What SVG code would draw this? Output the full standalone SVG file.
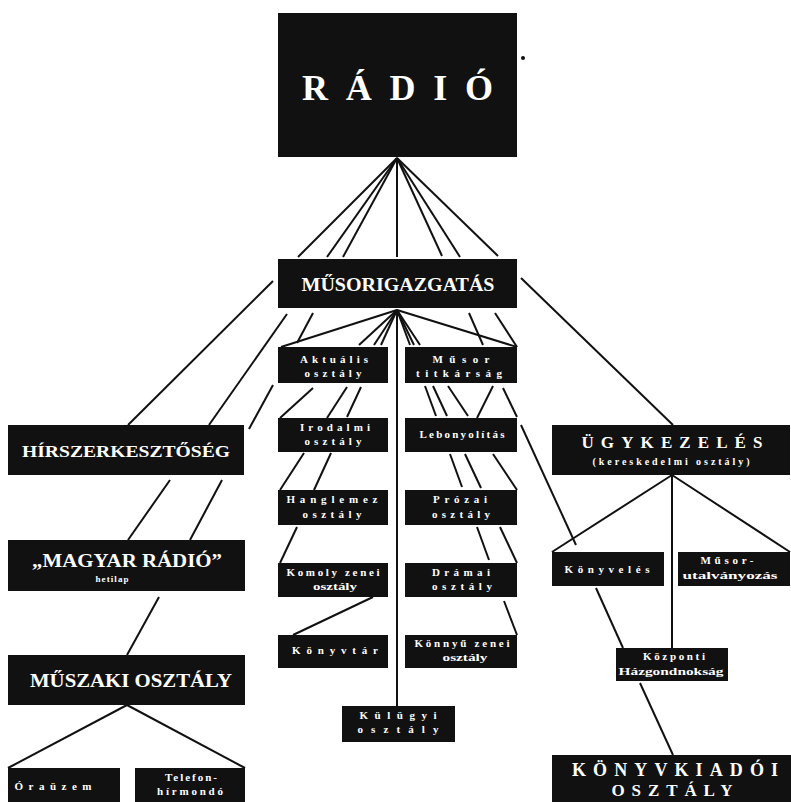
<svg xmlns="http://www.w3.org/2000/svg" width="791" height="802" viewBox="0 0 791 802">
<style>
.bg{fill:#ffffff}
.box{fill:#111111}
.t{font-family:"Liberation Serif","DejaVu Serif",serif;font-weight:bold;fill:#ffffff;text-anchor:middle}
.s{font-size:11px}
.c line{stroke:#111111;stroke-width:2;stroke-linecap:butt}
</style>
<rect class="bg" x="0" y="0" width="791" height="802"/>
<g id="connectors" class="c">
<!-- RÁDIÓ fan -->
<line x1="397" y1="158" x2="298" y2="257"/><line x1="273" y1="281" x2="128" y2="425"/>
<line x1="397" y1="158" x2="327" y2="257"/><line x1="287" y1="314" x2="209" y2="425"/><line x1="170" y1="480" x2="128" y2="540"/>
<line x1="397" y1="158" x2="343" y2="257"/><line x1="313" y1="313" x2="297" y2="343"/><line x1="273" y1="385" x2="249" y2="429"/><line x1="222" y1="480" x2="190" y2="540"/><line x1="159" y1="597" x2="127" y2="655"/>
<line x1="397" y1="158" x2="397" y2="257"/><line x1="397" y1="310" x2="397" y2="706"/>
<line x1="397" y1="158" x2="442" y2="256"/><line x1="469" y1="313" x2="483" y2="345"/><line x1="503" y1="388" x2="517" y2="417"/><line x1="521" y1="425" x2="576" y2="545"/><line x1="596" y1="588" x2="623" y2="648"/><line x1="640" y1="683" x2="673" y2="755"/>
<line x1="397" y1="158" x2="460" y2="257"/><line x1="495" y1="313" x2="517" y2="347"/>
<line x1="397" y1="158" x2="498" y2="256"/><line x1="521" y1="278" x2="673" y2="425"/>
<!-- MŰSORIGAZGATÁS fan left -->
<line x1="397" y1="310" x2="281" y2="347"/>
<line x1="397" y1="310" x2="359" y2="345"/><line x1="313" y1="388" x2="280" y2="418"/>
<line x1="397" y1="310" x2="374" y2="345"/><line x1="347" y1="387" x2="327" y2="418"/><line x1="304" y1="453" x2="280" y2="490"/>
<line x1="397" y1="310" x2="381" y2="345"/><line x1="361" y1="387" x2="347" y2="417"/><line x1="331" y1="453" x2="314" y2="490"/><line x1="297" y1="527" x2="280" y2="563"/>
<!-- MŰSORIGAZGATÁS fan right -->
<line x1="397" y1="310" x2="517" y2="347"/>
<line x1="397" y1="310" x2="420" y2="345"/><line x1="448" y1="386" x2="468" y2="416"/><line x1="493" y1="454" x2="517" y2="490"/>
<line x1="397" y1="310" x2="414" y2="345"/><line x1="433" y1="386" x2="447" y2="416"/><line x1="465" y1="454" x2="481" y2="488"/><line x1="500" y1="527" x2="517" y2="563"/>
<line x1="397" y1="310" x2="410" y2="345"/><line x1="425" y1="386" x2="436" y2="416"/><line x1="450" y1="454" x2="462" y2="487"/><line x1="477" y1="527" x2="489" y2="560"/><line x1="504" y1="601" x2="517" y2="635"/>
<!-- others -->
<line x1="493" y1="386" x2="477" y2="418"/>
<line x1="373" y1="597" x2="293" y2="635"/>
<line x1="127" y1="705" x2="8" y2="768"/><line x1="127" y1="705" x2="245" y2="768"/>
<line x1="672" y1="475" x2="552" y2="552"/><line x1="672" y1="475" x2="672" y2="648"/><line x1="672" y1="475" x2="790" y2="552"/>
</g>
<circle cx="523" cy="58" r="2" fill="#111111"/>
<g id="radio"><rect class="box" x="278" y="13" width="239" height="144"/><text class="t" x="397.5" y="100" font-size="36" textLength="191" lengthAdjust="spacing">RÁDIÓ</text></g>
<g id="musorigazgatas"><rect class="box" x="278" y="259" width="239" height="49"/><text class="t" x="398" y="291" font-size="19" textLength="193" lengthAdjust="spacingAndGlyphs">MŰSORIGAZGATÁS</text></g>
<g id="hirszerkesztoseg"><rect class="box" x="8" y="425" width="236" height="50"/><text class="t" x="126" y="457" font-size="17" textLength="208" lengthAdjust="spacingAndGlyphs">HÍRSZERKESZTŐSÉG</text></g>
<g id="aktualis"><rect class="box" x="278" y="347" width="110" height="36"/><text class="t s" x="334" y="363" textLength="68" lengthAdjust="spacing">Aktuális</text><text class="t s" x="333" y="377" textLength="57" lengthAdjust="spacing">osztály</text></g>
<g id="titkarsag"><rect class="box" x="405" y="347" width="112" height="36"/><text class="t s" x="461" y="363" textLength="57" lengthAdjust="spacing">Műsor</text><text class="t s" x="459" y="377" textLength="86" lengthAdjust="spacing">titkárság</text></g>
<g id="irodalmi"><rect class="box" x="278" y="418" width="110" height="34"/><text class="t s" x="335" y="431" textLength="70" lengthAdjust="spacing">Irodalmi</text><text class="t s" x="333" y="445" textLength="57" lengthAdjust="spacing">osztály</text></g>
<g id="lebonyolitas"><rect class="box" x="405" y="418" width="112" height="34"/><text class="t s" x="462" y="438" textLength="85" lengthAdjust="spacing">Lebonyolítás</text></g>
<g id="hanglemez"><rect class="box" x="278" y="490" width="110" height="35"/><text class="t s" x="332" y="503" textLength="91" lengthAdjust="spacing">Hanglemez</text><text class="t s" x="332" y="518" textLength="59" lengthAdjust="spacing">osztály</text></g>
<g id="prozai"><rect class="box" x="405" y="490" width="112" height="35"/><text class="t s" x="460" y="503" textLength="54" lengthAdjust="spacing">Prózai</text><text class="t s" x="461" y="518" textLength="58" lengthAdjust="spacing">osztály</text></g>
<g id="komolyzenei"><rect class="box" x="278" y="563" width="110" height="34"/><text class="t s" x="333" y="576" textLength="93" lengthAdjust="spacing">Komoly zenei</text><text class="t s" x="335" y="590" textLength="44" lengthAdjust="spacingAndGlyphs">osztály</text></g>
<g id="dramai"><rect class="box" x="405" y="563" width="112" height="34"/><text class="t s" x="461" y="576" textLength="58" lengthAdjust="spacing">Drámai</text><text class="t s" x="462" y="590" textLength="60" lengthAdjust="spacing">osztály</text></g>
<g id="konyvtar"><rect class="box" x="278" y="635" width="110" height="33"/><text class="t s" x="335" y="654" textLength="86" lengthAdjust="spacing">Könyvtár</text></g>
<g id="konnyuzenei"><rect class="box" x="405" y="635" width="112" height="33"/><text class="t s" x="462" y="647" textLength="95" lengthAdjust="spacing">Könnyű zenei</text><text class="t s" x="465" y="661" textLength="45" lengthAdjust="spacingAndGlyphs">osztály</text></g>
<g id="kulugyi"><rect class="box" x="342" y="706" width="113" height="36"/><text class="t s" x="398" y="719" textLength="77" lengthAdjust="spacing">Külügyi</text><text class="t s" x="398" y="733" textLength="81" lengthAdjust="spacing">osztály</text></g>
<g id="ugykezeles"><rect class="box" x="552" y="425" width="238" height="50"/><text class="t" x="672" y="448" font-size="17" textLength="181" lengthAdjust="spacing">ÜGYKEZELÉS</text><text class="t" x="671" y="465" font-size="10" textLength="157" lengthAdjust="spacing">(kereskedelmi osztály)</text></g>
<g id="magyarradio"><rect class="box" x="8" y="540" width="237" height="51"/><text class="t" x="127" y="567" font-size="18" textLength="190" lengthAdjust="spacingAndGlyphs">„MAGYAR RÁDIÓ”</text><text class="t" x="112" y="582" font-size="9" textLength="33" lengthAdjust="spacing">hetilap</text></g>
<g id="muszaki"><rect class="box" x="8" y="655" width="237" height="50"/><text class="t" x="131" y="687" font-size="19" textLength="202" lengthAdjust="spacingAndGlyphs">MŰSZAKI OSZTÁLY</text></g>
<g id="orauzem"><rect class="box" x="8" y="768" width="112" height="36"/><text class="t s" x="53" y="790" textLength="77" lengthAdjust="spacing">Óraüzem</text></g>
<g id="telefonhirmondo"><rect class="box" x="135" y="768" width="110" height="36"/><text class="t s" x="191" y="781" textLength="52" lengthAdjust="spacing">Telefon-</text><text class="t s" x="190" y="795" textLength="66" lengthAdjust="spacing">hírmondó</text></g>
<g id="konyveles"><rect class="box" x="552" y="552" width="112" height="34"/><text class="t s" x="607" y="573" textLength="85" lengthAdjust="spacing">Könyvelés</text></g>
<g id="musorutalvanyozas"><rect class="box" x="678" y="552" width="112" height="34"/><text class="t s" x="727" y="564" textLength="53" lengthAdjust="spacing">Műsor-</text><text class="t s" x="730" y="579" textLength="95" lengthAdjust="spacingAndGlyphs">utalványozás</text></g>
<g id="kozponti"><rect class="box" x="616" y="648" width="112" height="33"/><text class="t s" x="674" y="660" textLength="62" lengthAdjust="spacing">Központi</text><text class="t s" x="671" y="675" textLength="105" lengthAdjust="spacingAndGlyphs">Házgondnokság</text></g>
<g id="konyvkiado"><rect class="box" x="552" y="755" width="239" height="50"/><text class="t" x="675" y="776" font-size="18" textLength="206" lengthAdjust="spacing">KÖNYVKIADÓI</text><text class="t" x="672" y="796" font-size="17" textLength="121" lengthAdjust="spacing">OSZTÁLY</text></g>
</svg>
